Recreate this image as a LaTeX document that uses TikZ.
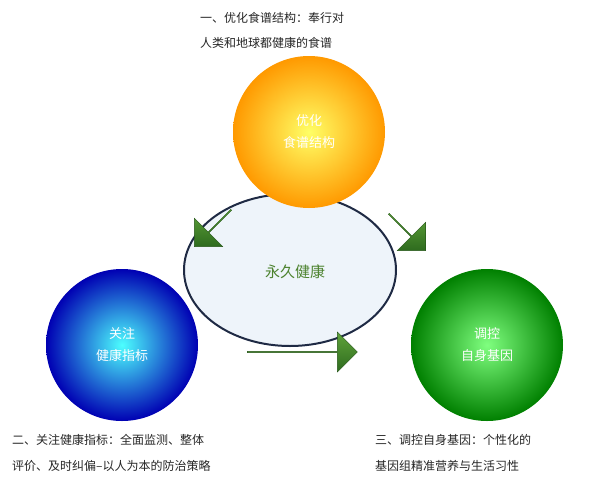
\documentclass[tikz,border=0pt]{standalone}
\usepackage{fontspec}
\setmainfont{Noto Sans CJK SC}
\usetikzlibrary{shapes.arrows,shapes.geometric,shadings}
\definecolor{navy}{HTML}{1F2A44}
\definecolor{ellfill}{HTML}{EEF4FA}
\definecolor{dgreen}{HTML}{2E6B1E}
\definecolor{lgreen}{HTML}{5FA33A}
\tikzset{
  ball/.style={circle,minimum size=152pt,text=white,font=\fontsize{13}{22}\selectfont,align=center,inner sep=0pt},
  blk/.style={single arrow,minimum height=52pt,minimum width=40pt,single arrow head extend=6pt,inner sep=0pt,
     top color=lgreen,bottom color=dgreen,draw=dgreen!80!black},
  captext/.style={font=\fontsize{12}{16}\selectfont,text=black!85,anchor=west,inner sep=0pt}
}
\begin{document}
\begin{tikzpicture}[x=1pt,y=-1pt]
\useasboundingbox (0,0) rectangle (600,483);
\node[ellipse,minimum width=212pt,minimum height=152pt,draw=navy,line width=2pt,fill=ellfill] (core) at (290,270) {};
\node[font=\fontsize{15}{18}\selectfont,text=lgreen!80!black] (coret) at (295,272) {永久健康};
\node[ball,inner color=yellow!60!white,outer color=orange!80!yellow] (top) at (309,132) {优化\\食谱结构};
\node[ball,inner color=cyan!70!white,outer color=blue!70!black] (left) at (122,345) {关注\\健康指标};
\node[ball,inner color=green!50!white,outer color=green!50!black] (right) at (487,345) {调控\\自身基因};
\node[blk,rotate=-135] (a1) at (213,228) {};
\node[blk,rotate=-45] (a2) at (407,232) {};
\node[blk,minimum height=110pt] (a3) at (302,352) {};
\node[captext] (t1) at (200,18) {一、优化食谱结构：奉行对};
\node[captext] (t2) at (200,43) {人类和地球都健康的食谱};
\node[captext] (b1) at (12,440) {二、关注健康指标：全面监测、整体};
\node[captext] (b2) at (12,466) {评价、及时纠偏--以人为本的防治策略};
\node[captext] (c1) at (375,440) {三、调控自身基因：个性化的};
\node[captext] (c2) at (375,466) {基因组精准营养与生活习性};
\end{tikzpicture}
\end{document}
